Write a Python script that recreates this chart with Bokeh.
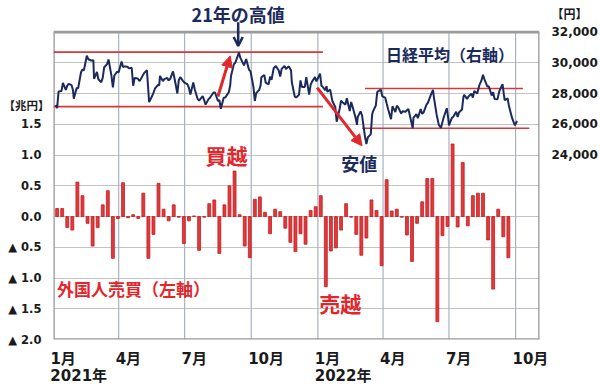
import pandas as pd
from bokeh.plotting import figure
from bokeh.models import (Range1d, LinearAxis, FixedTicker, Label, Arrow,
                          OpenHead, NormalHead)
from bokeh.embed import file_html
from bokeh.resources import INLINE

# ---------------- data ----------------
# Weekly net buying of Japanese stocks by foreign investors (trillion yen), weeks from 2021-01-04
flow_week_start = "2021-01-04"
flows = [0.13, 0.13, -0.18, -0.22, 0.56, 0.34, -0.11, -0.48, -0.18, 0.19,
         0.42, -0.68, -0.03, 0.55, -0.02, 0.03, -0.03, 0.38, -0.68, -0.29,
         0.54, 0.12, -0.07, 0.19, -0.01, -0.44, -0.07, 0.01, -0.55, -0.01,
         0.21, 0.27, -0.60, 0.19, 0.50, 0.74, 0.03, -0.48, -0.67, 0.28,
         0.32, 0.07, -0.28, 0.12, 0.08, -0.19, -0.42, -0.57, -0.28, -0.45,
         0.10, 0.16, 0.34, -1.14, -0.56, -0.51, -0.22, 0.21, -0.01, -0.29,
         -0.63, -0.35, 0.27, 0.10, -0.80, 0.60, 0.09, 0.12, -0.01, -0.30,
         -0.73, -0.11, 0.24, 0.62, 0.62, -1.71, -0.31, -0.16, 1.18, -0.17,
         0.88, -0.15, 0.34, 0.38, 0.38, -0.38, -1.18, 0.12, -0.33, -0.67]

# Nikkei average (yen)
nk_dates = [
    "2021-01-04", "2021-01-06", "2021-01-08", "2021-01-12", "2021-01-14", "2021-01-18", "2021-01-20",
    "2021-01-22", "2021-01-26", "2021-01-28", "2021-01-29", "2021-02-02", "2021-02-04", "2021-02-08",
    "2021-02-10", "2021-02-12", "2021-02-16", "2021-02-18", "2021-02-22", "2021-02-25", "2021-02-26",
    "2021-03-02", "2021-03-04", "2021-03-08", "2021-03-10", "2021-03-12", "2021-03-16", "2021-03-18",
    "2021-03-22", "2021-03-24", "2021-03-26", "2021-03-30", "2021-04-01", "2021-04-05", "2021-04-07",
    "2021-04-09", "2021-04-13", "2021-04-15", "2021-04-19", "2021-04-21", "2021-04-23", "2021-04-27",
    "2021-04-30", "2021-05-06", "2021-05-10", "2021-05-13", "2021-05-17", "2021-05-19", "2021-05-21",
    "2021-05-25", "2021-05-27", "2021-05-28", "2021-06-01", "2021-06-03", "2021-06-07", "2021-06-09",
    "2021-06-11", "2021-06-15", "2021-06-17", "2021-06-21", "2021-06-23", "2021-06-25", "2021-06-29",
    "2021-07-01", "2021-07-05", "2021-07-07", "2021-07-09", "2021-07-13", "2021-07-15", "2021-07-19",
    "2021-07-21", "2021-07-26", "2021-07-28", "2021-07-30", "2021-08-03", "2021-08-05", "2021-08-10",
    "2021-08-12", "2021-08-16", "2021-08-18", "2021-08-20", "2021-08-24", "2021-08-26", "2021-08-31",
    "2021-09-02", "2021-09-03", "2021-09-07", "2021-09-09", "2021-09-14", "2021-09-16", "2021-09-21",
    "2021-09-24", "2021-09-28", "2021-09-30", "2021-10-04", "2021-10-06", "2021-10-08", "2021-10-12",
    "2021-10-14", "2021-10-15", "2021-10-19", "2021-10-21", "2021-10-25", "2021-10-27", "2021-10-29",
    "2021-11-01", "2021-11-04", "2021-11-08", "2021-11-10", "2021-11-12", "2021-11-16", "2021-11-18",
    "2021-11-22", "2021-11-25", "2021-11-26", "2021-11-30", "2021-12-02", "2021-12-06", "2021-12-08",
    "2021-12-10", "2021-12-14", "2021-12-16", "2021-12-20", "2021-12-22", "2021-12-24", "2021-12-28",
    "2021-12-30",
    "2022-01-04", "2022-01-06", "2022-01-07", "2022-01-11", "2022-01-13", "2022-01-14", "2022-01-18",
    "2022-01-20", "2022-01-21", "2022-01-25", "2022-01-27", "2022-01-31", "2022-02-02", "2022-02-04",
    "2022-02-08", "2022-02-10", "2022-02-14", "2022-02-16", "2022-02-18", "2022-02-22", "2022-02-24",
    "2022-02-25", "2022-03-01", "2022-03-03", "2022-03-07", "2022-03-09", "2022-03-11", "2022-03-15",
    "2022-03-17", "2022-03-18", "2022-03-22", "2022-03-24", "2022-03-25", "2022-03-29", "2022-03-31",
    "2022-04-04", "2022-04-06", "2022-04-08", "2022-04-12", "2022-04-14", "2022-04-18", "2022-04-20",
    "2022-04-22", "2022-04-26", "2022-04-28", "2022-05-02", "2022-05-06", "2022-05-10", "2022-05-12",
    "2022-05-13", "2022-05-17", "2022-05-19", "2022-05-23", "2022-05-25", "2022-05-27", "2022-05-31",
    "2022-06-02", "2022-06-06", "2022-06-09", "2022-06-10", "2022-06-14", "2022-06-17", "2022-06-20",
    "2022-06-22", "2022-06-24", "2022-06-28", "2022-06-30", "2022-07-01", "2022-07-05", "2022-07-07",
    "2022-07-11", "2022-07-13", "2022-07-15", "2022-07-19", "2022-07-21", "2022-07-22", "2022-07-26",
    "2022-07-28", "2022-08-01", "2022-08-03", "2022-08-05", "2022-08-09", "2022-08-12", "2022-08-15",
    "2022-08-17", "2022-08-19", "2022-08-23", "2022-08-25", "2022-08-29", "2022-08-31", "2022-09-02",
    "2022-09-06", "2022-09-08", "2022-09-09", "2022-09-13", "2022-09-15", "2022-09-16", "2022-09-20",
    "2022-09-22", "2022-09-26", "2022-09-28", "2022-09-30", "2022-10-03"]
nk_values = [
    27258, 27056, 28139, 28164, 28698, 28242, 28523,
    28631, 28546, 28197, 27663, 28362, 28341, 29388,
    29562, 29520, 30467, 30236, 30156, 30168, 28966,
    29408, 28930, 28743, 29036, 29717, 29921, 30216,
    29174, 28405, 29176, 29432, 29389, 30089, 29730,
    29768, 29751, 29642, 29685, 28508, 29020, 28991,
    28813, 29331, 29518, 27448, 27824, 28044, 28317,
    28553, 28549, 29149, 28814, 28946, 29019, 28860,
    28948, 29441, 29018, 28010, 28874, 29066, 28812,
    28707, 28598, 28366, 27940, 28718, 28279, 27652,
    27548, 27833, 27581, 27283, 27641, 27728, 28070,
    28070, 27523, 27585, 27013, 27732, 27742, 28089,
    28543, 29128, 29916, 30008, 30670, 30323, 29839,
    30248, 29544, 29452, 28444, 27528, 28048, 28230,
    28550, 29068, 29215, 28708, 28600, 29098, 28892,
    29647, 29794, 29507, 29106, 29610, 29808, 29598,
    29774, 29499, 28751, 27821, 27753, 27927, 28860,
    28437, 28432, 29066, 27937, 28562, 28782, 29069,
    28791,
    29301, 28487, 28478, 28222, 28489, 28124, 28257,
    27772, 27522, 27131, 26170, 27001, 27533, 27439,
    27284, 27696, 26865, 27460, 27122, 26449, 25970,
    26476, 26844, 26577, 25221, 24717, 25163, 25346,
    26652, 26827, 27224, 28110, 28149, 28252, 27821,
    27736, 27350, 26985, 26335, 27172, 26800, 27217,
    27105, 26700, 26848, 26818, 27003, 26167, 25748,
    26427, 26659, 26402, 27001, 26677, 26781, 27279,
    27413, 27915, 28246, 27824, 26629, 25963, 25771,
    26149, 26491, 27049, 26393, 25935, 26423, 26490,
    26812, 26478, 26788, 26961, 27803, 27915, 27655,
    27815, 27993, 27741, 28176, 27999, 28547, 28871,
    29222, 28930, 28452, 28479, 27878, 28091, 27650,
    27626, 28065, 28214, 28614, 27875, 27567, 27688,
    27153, 26431, 26173, 25937, 26216]

# Range lines drawn on the Nikkei (yen levels and date spans)
level_values = [30700, 27150, 28330, 25750]
level_start = ["2021-01-01", "2021-01-01", "2022-03-07", "2022-03-03"]
level_end = ["2022-01-08", "2022-01-08", "2022-10-11", "2022-10-20"]

# Axis tick labels
month_ticks = ["2021-01-01", "2021-04-01", "2021-07-01", "2021-10-01",
               "2022-01-01", "2022-04-01", "2022-07-01", "2022-10-01"]
month_labels = ["1月", "4月", "7月", "10月", "1月", "4月", "7月", "10月"]
year_ticks = ["2021-01-01", "2022-01-01"]
year_labels = ["2021年", "2022年"]
left_ticks = [-2.0, -1.5, -1.0, -0.5, 0.0, 0.5, 1.0, 1.5]
left_labels = ["▲ 2.0", "▲ 1.5", "▲ 1.0", "▲ 0.5", "0.0", "0.5", "1.0", "1.5"]
left_unit = "【兆円】"
right_ticks = [24000, 26000, 28000, 30000, 32000]
right_labels = ["24,000", "26,000", "28,000", "30,000", "32,000"]
right_unit = "【円】"

# ---------------- geometry helpers ----------------
ORIGIN = pd.Timestamp("2021-01-01")


def day(s):
    return float((pd.Timestamp(s) - ORIGIN).days)


X_END = day("2022-11-03")
FRAME_W, FRAME_H = 489, 343      # plotting frame in px
BOX_TOP_PX = 32                  # top of the boxed chart area inside the frame
PX_PER_DAY = FRAME_W / X_END
L_LO, L_HI = -2.0, 3.0
R_LO, R_HI = 12000, 32000
box_h = FRAME_H - BOX_TOP_PX
L_TOP = L_HI + BOX_TOP_PX * (L_HI - L_LO) / box_h
R_TOP = R_HI + BOX_TOP_PX * (R_HI - R_LO) / box_h


def l_at_px(y_px):   # left-axis value at a pixel row of the frame
    return L_HI - (y_px - BOX_TOP_PX) * (L_HI - L_LO) / box_h


def r_at_px(y_px):
    return R_HI - (y_px - BOX_TOP_PX) * (R_HI - R_LO) / box_h


def text_w(s, size):
    return sum(0.696 * size if ord(c) < 128 else size for c in s)


nk_x = [day(d) for d in nk_dates]
bar_x = [day(d) + 2 for d in pd.date_range(flow_week_start, periods=len(flows), freq="7D")]

NAVY = "#1b2a5c"
RED = "#e2262b"
LINE_RED = "#d23a3a"
JP = "Noto Sans CJK JP"
NUM = "DejaVu Sans, Noto Sans CJK JP"
NBSP = "\u00a0"

p = figure(width=600, height=387, output_backend="svg", toolbar_location=None,
           x_range=Range1d(0, X_END), y_range=Range1d(L_LO, L_TOP),
           min_border_left=51, min_border_right=60, min_border_top=0, min_border_bottom=44,
           background_fill_color="white", border_fill_color="white")
p.extra_y_ranges = {"nk": Range1d(R_LO, R_TOP)}
p.outline_line_color = None

# horizontal grid (inside the box)
p.ygrid.ticker = FixedTicker(ticks=[L_LO + 0.5 * i for i in range(11)])
p.ygrid.grid_line_color = "#c4c4c4"
p.ygrid.grid_line_width = 1.2
p.xgrid.visible = False

# vertical grid lines, drawn only inside the box
vx = [day(d) for d in month_ticks[1:]]
p.segment(x0=vx, y0=[L_LO] * len(vx), x1=vx, y1=[L_HI] * len(vx),
          line_color="#a7b3c2", line_width=1.2)
# box outline
p.segment(x0=[0, X_END, 0, 0], y0=[L_LO, L_LO, L_HI, L_LO],
          x1=[0, X_END, X_END, X_END], y1=[L_HI, L_HI, L_HI, L_LO],
          line_color="#9a9a9a", line_width=2.6)


def style_axis(ax, size):
    ax.axis_line_color = None
    ax.major_tick_line_color = None
    ax.minor_tick_line_color = None
    ax.major_tick_out = 0
    ax.major_tick_in = 0
    ax.minor_tick_out = 0
    ax.minor_tick_in = 0
    ax.major_label_text_font = NUM
    ax.major_label_text_font_style = "bold"
    ax.major_label_text_font_size = size
    ax.major_label_text_color = "#1a1a1a"


def left_aligned(ticks, labels, size):
    pos = [day(d) + (text_w(l, size) / 2 - 3) / PX_PER_DAY for d, l in zip(ticks, labels)]
    return pos, {t: l for t, l in zip(pos, labels)}


# bottom month axis (labels start at their grid line)
mpos, mlab = left_aligned(month_ticks, month_labels, 15)
xa = p.xaxis[0]
xa.ticker = FixedTicker(ticks=mpos)
xa.major_label_overrides = mlab
style_axis(xa, "15px")
xa.major_label_standoff = 10

# year axis
ypos, ylab = left_aligned(year_ticks, year_labels, 15)
ya2 = LinearAxis(ticker=FixedTicker(ticks=ypos), major_label_overrides=ylab)
style_axis(ya2, "15px")
ya2.major_label_standoff = -4
p.add_layout(ya2, "below")

# left axis (unit label sits as an extra tick; numbers padded so they end near x=40)
unit_l = l_at_px(107)
la = p.yaxis[0]
la.ticker = FixedTicker(ticks=left_ticks + [unit_l])
la.major_label_overrides = {**{t: l + NBSP * 2 for t, l in zip(left_ticks, left_labels)},
                            unit_l: left_unit}
style_axis(la, "11.5px")
la.major_label_standoff = 4

# right axis
unit_r = r_at_px(15)
ra = LinearAxis(y_range_name="nk", ticker=FixedTicker(ticks=right_ticks + [unit_r]),
                major_label_overrides={**{t: l for t, l in zip(right_ticks, right_labels)},
                                       unit_r: right_unit})
style_axis(ra, "12px")
ra.major_label_standoff = 12
p.add_layout(ra, "right")

# bars
p.vbar(x=bar_x, top=flows, bottom=0, width=4.0, fill_color="#e23a3c",
       line_color="#c21c1e", line_width=0.8)

# range lines
p.segment(x0=[day(d) for d in level_start], y0=level_values,
          x1=[day(d) for d in level_end], y1=level_values,
          y_range_name="nk", line_color=LINE_RED, line_width=1.6)

# Nikkei line
p.line(nk_x, nk_values, y_range_name="nk", line_color=NAVY, line_width=2)

# arrows
p.add_layout(Arrow(end=NormalHead(size=11, fill_color=RED, line_color=RED),
                   x_start=day("2021-08-16"), y_start=27810,
                   x_end=day("2021-09-02"), y_end=30450,
                   y_range_name="nk", line_color=RED, line_width=3))
p.add_layout(Arrow(end=NormalHead(size=11, fill_color=RED, line_color=RED),
                   x_start=day("2021-12-31"), y_start=28390,
                   x_end=day("2022-03-03"), y_end=24600,
                   y_range_name="nk", line_color=RED, line_width=3))
p.add_layout(Arrow(end=OpenHead(size=9, line_color=NAVY, line_width=2.5),
                   x_start=day("2021-09-13"), y_start=r_at_px(22),
                   x_end=day("2021-09-13"), y_end=r_at_px(46),
                   y_range_name="nk", line_color=NAVY, line_width=2.5))


def label(text, x, y, color, size, align="center", rng="default"):
    kw = dict(x=x, y=y, text=text, text_color=color, text_font=JP,
              text_font_style="bold", text_font_size=size, text_align=align,
              text_baseline="middle")
    if rng != "default":
        kw["y_range_name"] = rng
    p.add_layout(Label(**kw))


label("21年の高値", day("2021-09-13"), r_at_px(14), NAVY, "18px", rng="nk")
label("日経平均（右軸）", day("2022-04-05"), r_at_px(54), NAVY, "16px", align="left", rng="nk")
label("安値", day("2022-02-27"), r_at_px(164), NAVY, "18px", rng="nk")
label("買越", day("2021-08-28"), l_at_px(156), RED, "21px")
label("売越", day("2022-02-01"), l_at_px(306), RED, "21px")
label("外国人売買（左軸）", day("2021-01-06"), l_at_px(291), RED, "17px", align="left")

open("out.html", "w").write(file_html(p, INLINE))
